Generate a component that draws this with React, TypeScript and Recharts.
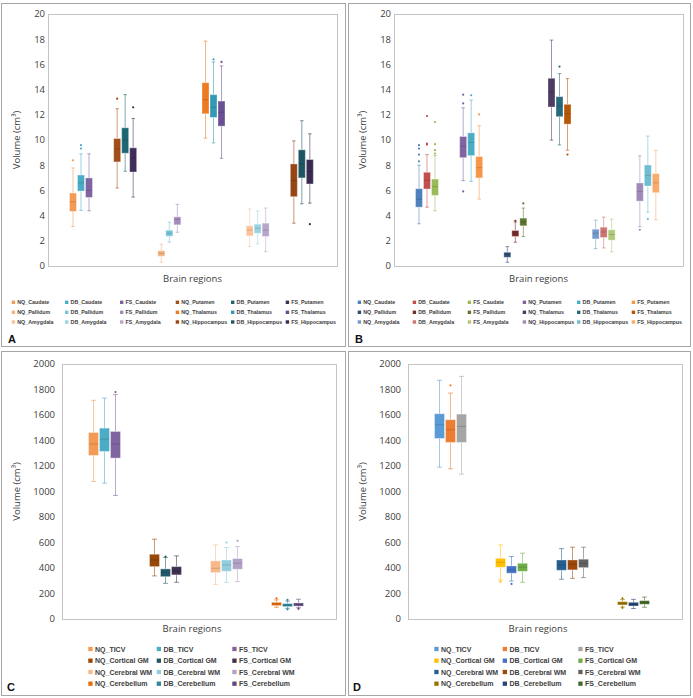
import { Bar, ComposedChart, Label, XAxis, YAxis } from "recharts";

const methods = ["NQ", "DB", "FS"];

// A, B: subcortical structures (cm3)
const subRegions = ["Caudate", "Putamen", "Pallidum", "Thalamus", "Amygdala", "Hippocampus"];
const subTicks = [0, 2, 4, 6, 8, 10, 12, 14, 16, 18, 20];

// every box is [min, q1, median, q3, max]
const aNQ = [
  [3.13, 4.33, 5.1, 5.79, 7.78],
  [6.19, 8.26, 9.3, 10.12, 12.48],
  [0.3, 0.77, 1.0, 1.22, 1.73],
  [10.15, 12.08, 13.2, 14.55, 17.85],
  [1.54, 2.39, 2.85, 3.19, 4.52],
  [3.4, 5.5, 6.8, 8.1, 9.93],
];
const aDB = [
  [4.41, 5.95, 6.6, 7.22, 8.9],
  [7.52, 8.95, 10.0, 10.97, 13.6],
  [1.89, 2.36, 2.6, 2.84, 3.48],
  [9.77, 11.79, 12.6, 13.6, 16.2],
  [1.75, 2.6, 3.0, 3.32, 4.36],
  [4.94, 6.99, 8.1, 9.22, 11.53],
];
const aFS = [
  [4.38, 5.44, 6.0, 6.99, 8.9],
  [5.47, 7.46, 8.6, 9.38, 11.71],
  [2.68, 3.27, 3.7, 3.9, 4.89],
  [8.55, 11.1, 12.2, 13.09, 15.88],
  [1.14, 2.34, 2.85, 3.4, 4.6],
  [4.99, 6.51, 7.5, 8.45, 10.49],
];
const aNQOut = [[8.39], [13.28], [], [], [], []];
const aDBOut = [[9.32, 9.59], [], [], [16.4], [], []];
const aFSOut = [[], [12.59], [], [16.2], [], [3.32]];

const bNQ = [
  [3.35, 4.67, 5.3, 6.14, 8.0],
  [6.77, 8.6, 9.5, 10.28, 12.56],
  [0.3, 0.69, 0.95, 1.09, 1.54],
  [9.99, 12.62, 13.84, 14.9, 17.93],
  [1.38, 2.15, 2.6, 2.92, 3.64],
  [3.11, 5.15, 5.9, 6.59, 8.74],
];
const bDB = [
  [4.67, 6.11, 6.8, 7.44, 8.84],
  [6.72, 8.76, 9.8, 10.57, 13.17],
  [1.89, 2.34, 2.6, 2.82, 3.5],
  [9.61, 11.85, 12.7, 13.44, 15.27],
  [1.43, 2.26, 2.7, 3.08, 3.88],
  [4.28, 6.35, 7.2, 8.02, 10.31],
];
const bFS = [
  [4.38, 5.6, 6.3, 6.9, 8.76],
  [5.31, 6.99, 7.8, 8.69, 11.13],
  [2.34, 3.19, 3.5, 3.8, 4.6],
  [9.19, 11.26, 12.1, 12.83, 14.87],
  [1.12, 2.05, 2.5, 2.87, 3.72],
  [3.67, 5.82, 6.6, 7.33, 9.16],
];
const bNQOut = [[8.31, 8.84, 9.32, 9.59], [12.9, 13.6, 5.92], [], [], [], [2.87]];
const bDBOut = [[9.64, 9.72, 11.9], [13.55], [3.59], [15.83], [], [3.74]];
const bFSOut = [[8.92, 9.19, 9.67, 11.42], [12.03], [4.97], [8.84], [], []];

// C, D: whole brain (cm3)
const bigRegions = ["TICV", "Cortical GM", "Cerebral WM", "Cerebellum"];
const bigTicks = [0, 200, 400, 600, 800, 1000, 1200, 1400, 1600, 1800, 2000];

const cNQ = [
  [1079, 1283, 1372, 1463, 1715],
  [338, 411, 463, 508, 626],
  [272, 364, 398, 456, 581],
  [92, 105, 118, 131, 150],
];
const cDB = [
  [1066, 1314, 1411, 1497, 1733],
  [280, 332, 367, 393, 482],
  [288, 374, 424, 463, 560],
  [84, 97, 108, 121, 140],
];
const cFS = [
  [969, 1262, 1372, 1471, 1760],
  [288, 346, 377, 411, 495],
  [293, 390, 437, 474, 568],
  [88, 101, 113, 126, 155],
];
const cNQOut = [[], [], [], [162]];
const cDBOut = [[], [490], [600], [150, 76]];
const cFSOut = [[1780], [], [613], [80]];

const dNQ = [
  [1191, 1416, 1524, 1610, 1872],
  [306, 406, 445, 476, 581],
  [312, 382, 424, 463, 552],
  [94, 110, 124, 136, 152],
];
const dDB = [
  [1178, 1385, 1484, 1563, 1772],
  [298, 359, 385, 416, 490],
  [319, 385, 429, 463, 563],
  [82, 102, 114, 131, 154],
];
const dFS = [
  [1136, 1385, 1510, 1607, 1903],
  [288, 374, 406, 437, 516],
  [325, 403, 437, 469, 563],
  [92, 115, 130, 144, 172],
];
const dNQOut = [[], [293], [], [162, 88]];
const dDBOut = [[1833], [275], [], []];
const dFSOut = [[], [], [], []];

// colours, one row per method (NQ, DB, FS), one entry per region
const aColors = [
  ["#F39A55", "#A24E1A", "#F6B382", "#EE7A22", "#F9C49A", "#954516"],
  ["#4BACC6", "#1D6775", "#78C4D8", "#3499B5", "#98D3E2", "#1E5562"],
  ["#8064A2", "#3F2E5A", "#A18CBD", "#6A4F94", "#B7A6CC", "#3A2A52"],
];
const bColors = [
  ["#4F81BD", "#8064A2", "#2C4D75", "#4D3B62", "#729ACA", "#9F8AB9"],
  ["#C0504D", "#4BACC6", "#772C2A", "#276A7C", "#CD7371", "#6FBDD1"],
  ["#9BBB59", "#F79646", "#5F7530", "#B65708", "#AFC97A", "#F9AB6B"],
];
const cColors = [
  ["#F39A55", "#984807", "#F7B98A", "#E46C0A"],
  ["#4BACC6", "#215968", "#93CDDD", "#31859C"],
  ["#8064A2", "#3F3151", "#B3A2C7", "#5F497A"],
];
const dColors = [
  ["#5B9BD5", "#FFC000", "#255E91", "#997300"],
  ["#ED7D31", "#4472C4", "#9E480E", "#264478"],
  ["#A5A5A5", "#70AD47", "#636363", "#43682B"],
];

const font = "'Open Sans', sans-serif";
const legendFont = "'Liberation Sans', Arial, sans-serif";

const panels = [
  {
    letter: "A",
    frame: { left: 1, top: 3, width: 345, height: 344 },
    plot: { left: 48, top: 14, right: 337, bottom: 266 },
    regions: subRegions,
    stats: [aNQ, aDB, aFS],
    outliers: [aNQOut, aDBOut, aFSOut],
    colors: aColors,
    ticks: subTicks,
    tickGap: 3,
    pad: { left: 11, right: 13 },
    barSize: 8,
    xLabelY: 279,
    xLabelDx: 0,
    yLabelX: 17,
    legend: { cols: [11.7, 65, 120, 175.7, 231, 285.7], rows: [302.3, 312.3, 322], marker: 3.4, font: 5.3, gap: 5.6 },
    letterPos: { x: 8, y: 343 },
  },
  {
    letter: "B",
    frame: { left: 348, top: 3, width: 343, height: 344 },
    plot: { left: 394, top: 14, right: 683, bottom: 266 },
    regions: subRegions,
    stats: [bNQ, bDB, bFS],
    outliers: [bNQOut, bDBOut, bFSOut],
    colors: bColors,
    ticks: subTicks,
    tickGap: 3,
    pad: { left: 11, right: 13 },
    barSize: 8,
    xLabelY: 279,
    xLabelDx: 0,
    yLabelX: 363,
    legend: { cols: [357.7, 412.7, 467.7, 522.7, 577, 631.7], rows: [302.3, 312.3, 322], marker: 3.4, font: 5.3, gap: 5.6 },
    letterPos: { x: 355, y: 343 },
  },
  {
    letter: "C",
    frame: { left: 1, top: 351, width: 345, height: 345 },
    plot: { left: 62, top: 364, right: 336, bottom: 619 },
    regions: bigRegions,
    stats: [cNQ, cDB, cFS],
    outliers: [cNQOut, cDBOut, cFSOut],
    colors: cColors,
    ticks: bigTicks,
    tickGap: 7,
    pad: { left: 12, right: 18 },
    barSize: 11,
    xLabelY: 628.5,
    xLabelDx: -7,
    yLabelX: 17,
    legend: { cols: [88.3, 156.7, 232.3], rows: [649, 660.7, 672, 683.7], marker: 4.3, font: 7, gap: 6.7 },
    letterPos: { x: 7, y: 690.5 },
  },
  {
    letter: "D",
    frame: { left: 348, top: 351, width: 343, height: 345 },
    plot: { left: 408, top: 364, right: 682, bottom: 619 },
    regions: bigRegions,
    stats: [dNQ, dDB, dFS],
    outliers: [dNQOut, dDBOut, dFSOut],
    colors: dColors,
    ticks: bigTicks,
    tickGap: 7,
    pad: { left: 12, right: 18 },
    barSize: 11,
    xLabelY: 628.5,
    xLabelDx: -7,
    yLabelX: 363,
    legend: { cols: [434.3, 502.7, 578.3], rows: [649, 660.7, 672, 683.7], marker: 4.3, font: 7, gap: 6.7 },
    letterPos: { x: 353, y: 690.5 },
  },
];

type Panel = (typeof panels)[number];

function BoxShape(props: any) {
  const { x, y, width, height, payload, method } = props;
  const b = payload[method];
  const [lo, hi] = b.range;
  // the bar spans [lo, hi]; place the quartiles inside it with the same scale
  const py = (v: number) => (hi === lo ? y : y + (height * (hi - v)) / (hi - lo));
  const [mn, q1, md, q3, mx] = b.stats;
  const cx = x + width / 2;
  const cap = width * 0.22;
  return (
    <g>
      <line x1={cx} x2={cx} y1={py(mx)} y2={py(q3)} stroke={b.color} strokeOpacity={0.55} />
      <line x1={cx} x2={cx} y1={py(q1)} y2={py(mn)} stroke={b.color} strokeOpacity={0.55} />
      <line x1={cx - cap} x2={cx + cap} y1={py(mx)} y2={py(mx)} stroke={b.color} strokeOpacity={0.6} />
      <line x1={cx - cap} x2={cx + cap} y1={py(mn)} y2={py(mn)} stroke={b.color} strokeOpacity={0.6} />
      <rect
        x={x + 0.5}
        y={py(q3)}
        width={width - 1}
        height={py(q1) - py(q3)}
        fill={b.color}
        stroke="#ffffff"
        strokeOpacity={0.35}
      />
      <line x1={x + 1} x2={x + width - 1} y1={py(md)} y2={py(md)} stroke="#000" strokeOpacity={0.15} />
      {b.out.map((o: number, i: number) => (
        <circle key={i} cx={cx} cy={py(o)} r={1.1} fill={b.color} />
      ))}
    </g>
  );
}

function BoxChart({ cfg }: { cfg: Panel }) {
  const { frame, plot } = cfg;
  const axisW = plot.left - frame.left - 4;
  const xAxisH = Math.round(2 * (cfg.xLabelY - plot.bottom));
  const rows = cfg.regions.map((region, i) => {
    const row: any = { region };
    methods.forEach((m, k) => {
      const stats = cfg.stats[k][i];
      const out = cfg.outliers[k][i];
      row[m] = {
        stats,
        out,
        color: cfg.colors[k][i],
        range: [Math.min(stats[0], ...out), Math.max(stats[4], ...out)],
      };
    });
    return row;
  });
  return (
    <div style={{ position: "absolute", left: frame.left, top: frame.top }}>
      <ComposedChart
        width={frame.width}
        height={plot.bottom - frame.top + xAxisH}
        data={rows}
        barGap={0}
        margin={{ top: plot.top - frame.top, right: frame.left + frame.width - plot.right, bottom: 0, left: 4 }}
      >
        <XAxis dataKey="region" tick={false} tickLine={false} axisLine={false} height={xAxisH} padding={cfg.pad}>
          <Label
            value="Brain regions"
            position="center"
            dx={cfg.xLabelDx}
            fontSize={9.5}
            fill="#404040"
            fontFamily={font}
          />
        </XAxis>
        <YAxis
          type="number"
          domain={[0, cfg.ticks[cfg.ticks.length - 1]]}
          ticks={cfg.ticks}
          interval={0}
          allowDataOverflow
          width={axisW}
          tickSize={0}
          tickMargin={cfg.tickGap}
          axisLine={false}
          tickLine={false}
          tick={{ fontSize: 9.5, fill: "#404040", fontFamily: font }}
        >
          <Label
            value="Volume (cm³)"
            angle={-90}
            position="insideLeft"
            offset={cfg.yLabelX - frame.left - 4}
            fontSize={9.5}
            fill="#404040"
            fontFamily={font}
            style={{ textAnchor: "middle" }}
          />
        </YAxis>
        {methods.map((m) => (
          <Bar
            key={m}
            dataKey={(d: any) => d[m].range}
            barSize={cfg.barSize}
            isAnimationActive={false}
            shape={(p: any) => <BoxShape {...p} method={m} />}
          />
        ))}
      </ComposedChart>
    </div>
  );
}

function Decor({ cfg }: { cfg: Panel }) {
  const { frame, plot, legend } = cfg;
  const nCols = legend.cols.length;
  const entries: { label: string; color: string }[] = [];
  cfg.regions.forEach((r, i) =>
    methods.forEach((m, k) => entries.push({ label: `${m}_${r}`, color: cfg.colors[k][i] }))
  );
  return (
    <g>
      <rect
        x={frame.left + 0.5}
        y={frame.top + 0.5}
        width={frame.width - 1}
        height={frame.height - 1}
        fill="none"
        stroke="#a6a6a6"
      />
      <rect
        x={plot.left + 0.5}
        y={plot.top + 0.5}
        width={plot.right - plot.left}
        height={plot.bottom - plot.top}
        fill="none"
        stroke="#c4c4c4"
      />
      {entries.map((e, k) => {
        const cx = legend.cols[k % nCols];
        const cy = legend.rows[Math.floor(k / nCols)];
        return (
          <g key={e.label}>
            <rect x={cx} y={cy - legend.marker / 2} width={legend.marker} height={legend.marker} fill={e.color} />
            <text
              x={cx + legend.gap}
              y={cy}
              dominantBaseline="central"
              fontSize={legend.font}
              fontWeight="bold"
              fontFamily={legendFont}
              fill="#404040"
            >
              {e.label}
            </text>
          </g>
        );
      })}
      <text x={cfg.letterPos.x} y={cfg.letterPos.y} fontSize={11} fontWeight="bold" fontFamily={legendFont} fill="#111">
        {cfg.letter}
      </text>
    </g>
  );
}

export default function App() {
  return (
    <div style={{ position: "absolute", left: 0, top: 0, width: 693, height: 698, background: "#fff" }}>
      {panels.map((p) => (
        <BoxChart key={p.letter} cfg={p} />
      ))}
      <svg width={693} height={698} style={{ position: "absolute", left: 0, top: 0, pointerEvents: "none" }}>
        {panels.map((p) => (
          <Decor key={p.letter} cfg={p} />
        ))}
      </svg>
    </div>
  );
}
